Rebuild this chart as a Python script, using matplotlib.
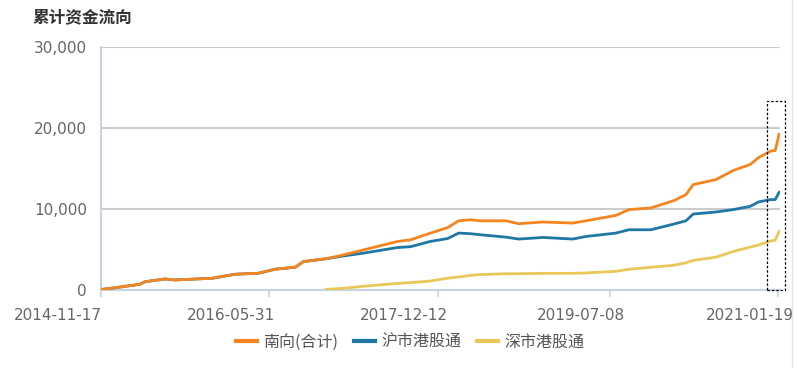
import matplotlib
matplotlib.use("Agg")
import matplotlib.pyplot as plt
import matplotlib.dates as mdates
import matplotlib.transforms as mtransforms
from matplotlib.patches import Rectangle
from matplotlib.lines import Line2D
import numpy as np
import pandas as pd

plt.rcParams['font.family'] = ['DejaVu Sans', 'Noto Sans CJK SC']

title = "累计资金流向"
series_names = ["南向(合计)", "沪市港股通", "深市港股通"]
colors = ["#F5851F", "#1F77A5", "#E9C758"]

dates = ["2014-11-17", "2015-01-19", "2015-03-27", "2015-04-13", "2015-06-18",
         "2015-07-22", "2015-11-22", "2016-02-07", "2016-04-24", "2016-06-19",
         "2016-08-25", "2016-09-21", "2016-11-23", "2016-12-05", "2017-02-01",
         "2017-04-09", "2017-07-31", "2017-09-13", "2017-11-18", "2018-01-14",
         "2018-02-20", "2018-04-01", "2018-05-04", "2018-07-27", "2018-09-08",
         "2018-11-27", "2019-03-07", "2019-04-20", "2019-07-29", "2019-09-10",
         "2019-11-22", "2020-02-07", "2020-03-18", "2020-04-11", "2020-06-26",
         "2020-08-22", "2020-10-18", "2020-11-14", "2020-12-24", "2021-01-09",
         "2021-01-22"]

south_total = [0, 300, 650, 970, 1300,
               1180, 1390, 1890, 2010, 2510,
               2760, 3450, 3750, 3800, 4280,
               4900, 5940, 6150, 6980, 7650,
               8500, 8630, 8500, 8500, 8140,
               8350, 8220, 8500, 9170, 9880,
               10090, 11000, 11740, 12980, 13600,
               14720, 15470, 16300, 17110, 17200,
               19190]

sh_connect = [0, 300, 650, 970, 1300,
              1180, 1390, 1890, 2010, 2510,
              2760, 3450, 3750, 3800, 4150,
              4500, 5190, 5300, 5950, 6300,
              6980, 6900, 6770, 6480, 6240,
              6440, 6240, 6560, 6980, 7390,
              7390, 8100, 8500, 9340, 9590,
              9880, 10290, 10830, 11120, 11120,
              12020]

sz_connect = [np.nan] * 13 + [0, 150,
              400, 750, 850, 1050, 1400,
              1550, 1750, 1850, 1950, 1950,
              2000, 2000, 2050, 2250, 2500,
              2750, 3000, 3300, 3600, 4000,
              4700, 5250, 5500, 6000, 6100,
              7200]

tick_dates = ["2014-11-17", "2016-05-31", "2017-12-12", "2019-07-08", "2021-01-19"]
y_ticks = [0, 10000, 20000, 30000]

x = pd.to_datetime(dates)

fig = plt.figure(figsize=(8.1, 3.68), dpi=100)
ax = fig.add_axes([101/810, 78.5/368, 679/810, 242.5/368])

series = [south_total, sh_connect, sz_connect]
zorders = [5, 4, 3]
for vals, c, name, z in zip(series, colors, series_names, zorders):
    ax.plot(x, vals, color=c, lw=2.0, label=name, solid_joinstyle='round', zorder=z)

ax.set_xlim(pd.Timestamp("2014-11-17"), pd.Timestamp("2021-01-25"))
ax.set_ylim(0, 30000)

ax.set_yticks(y_ticks)
ax.set_yticklabels([f"{v:,}" for v in y_ticks])
ax.yaxis.grid(True, color="#cccccc", lw=1.5, zorder=0)
ax.set_axisbelow(True)

ax.set_xticks(pd.to_datetime(tick_dates))
ax.set_xticklabels(tick_dates)

for s in ["top", "right"]:
    ax.spines[s].set_visible(False)
for s in ["left", "bottom"]:
    ax.spines[s].set_color("#c6d3e3")
    ax.spines[s].set_linewidth(1.5)

ax.tick_params(axis='y', length=0, pad=10, labelsize=11, labelcolor="#666666")
ax.tick_params(axis='x', length=5, color="#c6d3e3", width=1.2, pad=8,
               labelsize=11, labelcolor="#666666")

label_shift_px = [-43, -38, -34, -29, -28]
for lab, dx in zip(ax.get_xticklabels(), label_shift_px):
    off = mtransforms.ScaledTranslation(dx/100, 0, fig.dpi_scale_trans)
    lab.set_transform(lab.get_transform() + off)

fig.text(33/810, 1 - 17/368, title, fontsize=12, fontweight='bold',
         color="#333333", va='center', ha='left',
         family=['Noto Sans CJK SC', 'DejaVu Sans'])

leg = fig.legend(loc='center', bbox_to_anchor=(410/810, 1 - 342/368), ncol=3,
                 frameon=False, handlelength=1.3, handletextpad=0.4,
                 columnspacing=1.0,
                 prop={'family': ['Noto Sans CJK SC', 'DejaVu Sans'], 'size': 11.5})
for t in leg.get_texts():
    t.set_color("#555555")
for h in leg.legend_handles:
    h.set_linewidth(3)

fig.add_artist(Rectangle((767/810, 78/368), 18/810, 189/368, fill=False,
                         ls=(0, (2, 1.5)), lw=0.9, edgecolor="black"))
fig.add_artist(Line2D([792/810, 792/810], [0, 1], color="#dde6f0", lw=1))

fig.savefig("out.png", dpi=100, facecolor="white")
